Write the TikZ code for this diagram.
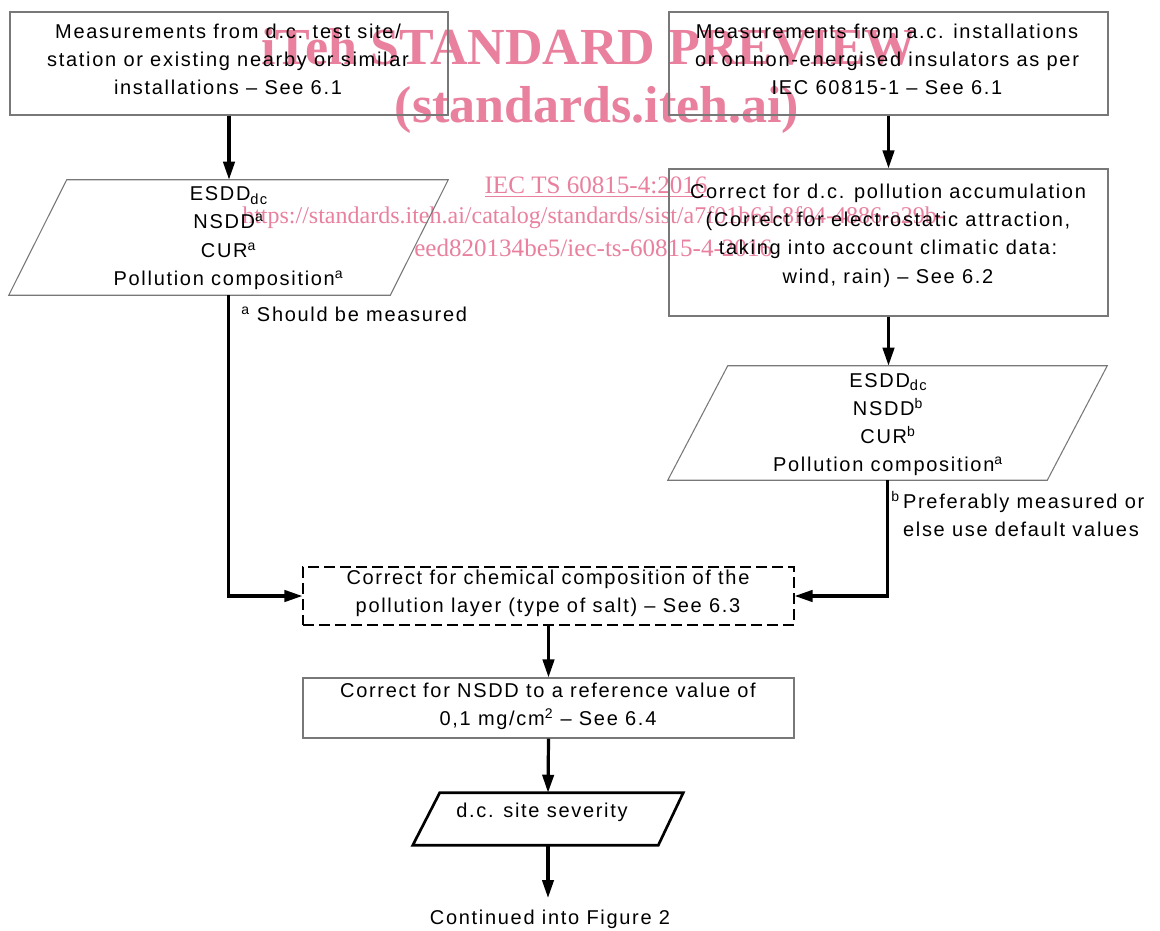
\documentclass[tikz,border=0pt]{standalone}
\usepackage{fontspec}
\setmainfont{Liberation Sans}[LetterSpace=8.5]
\newfontfamily\wmfont{Liberation Serif}
\usetikzlibrary{arrows.meta,calc}
\definecolor{wm}{RGB}{232,128,158}
\definecolor{bordergrey}{RGB}{120,120,120}
\newcommand{\subdc}[1]{\raisebox{-0.35ex}{\fontsize{11pt}{11pt}\selectfont #1}}
\begin{document}
\begin{tikzpicture}[x=0.75pt,y=-0.75pt,
  txt/.style={font=\fontsize{15pt}{21.2pt}\selectfont, align=center, inner sep=0pt},
  shapebox/.style={inner sep=0pt},
  greybox/.style={draw=bordergrey, line width=0.8pt, inner sep=0pt},
  dashbox/.style={draw=black, line width=0.8pt, dash pattern=on 8pt off 4pt, inner sep=0pt},
  flow/.style={line width=2.4pt, -{Triangle[length=13.5pt,width=8.5pt]}},
  wmtitle/.style={font=\wmfont\bfseries\fontsize{39pt}{40pt}\selectfont, text=wm, inner sep=0pt},
  wmsmall/.style={font=\wmfont\fontsize{18.8pt}{20pt}\selectfont, text=wm, inner sep=0pt}
]
\useasboundingbox (0,0) rectangle (1160,931);

% watermark
\node[wmtitle] (w1) at (589,47) {iTeh STANDARD PREVIEW};
\node[wmtitle] (w2) at (597,110) {(standards.iteh.ai)};
\node[wmsmall] (w3) at (596,187) {\underline{IEC TS 60815-4:2016}};
\node[wmsmall, anchor=west, font=\wmfont\fontsize{18pt}{20pt}\selectfont] (w4) at (242,218) {https://standards.iteh.ai/catalog/standards/sist/a7f01b6d-8f04-4886-a29b-};
\node[wmsmall, anchor=west] (w5) at (414,248) {eed820134be5/iec-ts-60815-4-2016};

% boxes
\node[greybox, minimum width=438*0.75pt, minimum height=103*0.75pt] (b1) at (229,63.5) {};
\node[txt] (t1) at (228,59.5) {Measurements from d.c. test site/\\station or existing nearby or similar\\installations – See 6.1};

\node[greybox, minimum width=439*0.75pt, minimum height=103*0.75pt] (b2) at (888.5,63.5) {};
\node[txt] (t2) at (887,59.5) {Measurements from a.c. installations\\or on non-energised insulators as per\\IEC 60815-1 – See 6.1};

\node[shapebox, minimum width=439*0.75pt, minimum height=115*0.75pt] (p1) at (228.5,237.5) {};
\draw[greybox] ([xshift=58*0.75pt]p1.north west) -- (p1.north east) -- ([xshift=-58*0.75pt]p1.south east) -- (p1.south west) -- cycle;
\node[txt] (tp1) at (228.5,238) {ESDD\subdc{dc}\\NSDD\textsuperscript{a}\\CUR\textsuperscript{a}\\Pollution composition\textsuperscript{a}};
\node[txt, anchor=west] (fa) at (241,314) {\textsuperscript{a} Should be measured};

\node[greybox, minimum width=439*0.75pt, minimum height=147*0.75pt] (b3) at (888.5,242.5) {};
\node[txt] (t3) at (888,235.5) {Correct for d.c. pollution accumulation\\(Correct for electrostatic attraction,\\taking into account climatic data:\\wind, rain) – See 6.2};

\node[shapebox, minimum width=439*0.75pt, minimum height=114*0.75pt] (p2) at (887.5,423) {};
\draw[greybox] ([xshift=60*0.75pt]p2.north west) -- (p2.north east) -- ([xshift=-60*0.75pt]p2.south east) -- (p2.south west) -- cycle;
\node[txt] (tp2) at (888,424.5) {ESDD\subdc{dc}\\NSDD\textsuperscript{b}\\CUR\textsuperscript{b}\\Pollution composition\textsuperscript{a}};
\node[txt, anchor=west] (fb) at (891,517) {\begin{tabular}{@{}l@{\,}l@{}}\textsuperscript{b} & Preferably measured or\\ & else use default values\end{tabular}};

\node[dashbox, minimum width=491*0.75pt, minimum height=58*0.75pt] (d) at (548.5,596) {};
\node[txt] (td) at (548,593) {Correct for chemical composition of the\\pollution layer (type of salt) – See 6.3};

\node[greybox, minimum width=491*0.75pt, minimum height=60*0.75pt] (e) at (548.5,708) {};
\node[txt] (te) at (548,706) {Correct for NSDD to a reference value of\\0,1 mg/cm\textsuperscript{2} – See 6.4};

\node[shapebox, minimum width=270*0.75pt, minimum height=52*0.75pt] (p3) at (548,819) {};
\draw[line width=2pt, line join=miter] ([xshift=27*0.75pt]p3.north west) -- (p3.north east) -- ([xshift=-25*0.75pt]p3.south east) -- (p3.south west) -- cycle;
\node[txt] (tp3) at (542,812) {d.c. site severity};

\coordinate (cont) at (548,898);
\node[txt] (tc) at (550,919) {Continued into Figure 2};

% connectors
\draw[flow] (b1.south) -- (b1.south |- p1.north);
\draw[flow] (b2.south) -- (b2.south |- b3.north);
\draw[flow] (b3.south) -- (b3.south |- p2.north);
\draw[flow] (p1.south) |- (d.west);
\draw[flow] (p2.south) |- (d.east);
\draw[flow] (d.south) -- (e.north);
\draw[flow] (e.south) -- (p3.north);
\draw[flow] (p3.south) -- (cont);
\end{tikzpicture}
\end{document}
